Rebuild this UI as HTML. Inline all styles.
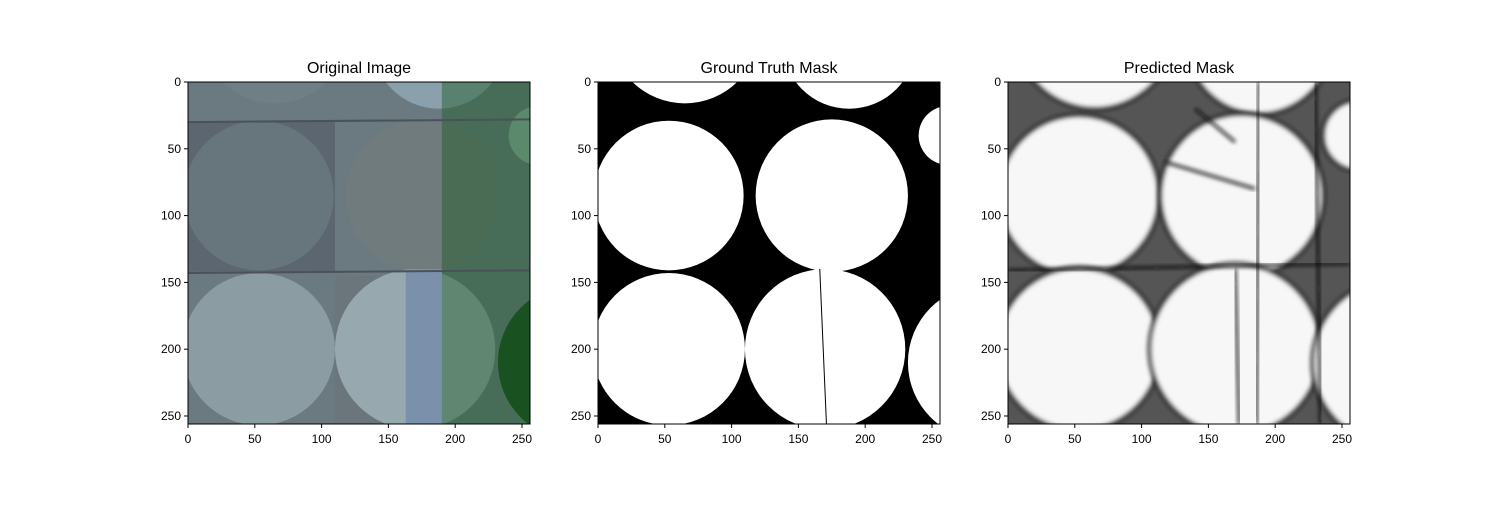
<!DOCTYPE html>
<html><head><meta charset="utf-8">
<style>
html,body{margin:0;padding:0;background:#fff;}
svg text{font-family:"Liberation Sans","DejaVu Sans",sans-serif;}
</style></head>
<body>
<svg id="fig" width="1500" height="500" viewBox="0 0 1500 500" xmlns="http://www.w3.org/2000/svg">
<defs>
<clipPath id="c0"><rect x="188" y="82" width="342" height="342"/></clipPath>
<clipPath id="c1"><rect x="598" y="82" width="342" height="342"/></clipPath>
<clipPath id="c2"><rect x="1008" y="82" width="342" height="342"/></clipPath>
<filter id="blur"><feGaussianBlur stdDeviation="2"/></filter>
</defs>
</svg>
<script>
const panelTitles = ["Original Image","Ground Truth Mask","Predicted Mask"];
const tickValues = [0,50,100,150,200,250];
const tickLabels = ["0","50","100","150","200","250"];
const imageSize = 256;
// field circles: center x, center y, radius (pixel units of the image)
const circleCX = [65,188,53,175,53,170,290,262];
const circleCY = [-40,-30,85,85,200,200,210,40];
const circleR  = [56,50,56,57,57,60,58,22];
// original image tints per circle
const origFill = ["#6f7f86","#8aa0ad","#66767c","#6f7b7c","#8c9ca3","#97a8ae","#174a1e","#8fb0a4"];
// predicted mask dark lines [x1,y1,x2,y2]
const predLX1 = [110,170,188,0,230,118,140];
const predLY1 = [0,140,0,141,0,60,20];
const predLX2 = [110,173,186,256,234,185,170];
const predLY2 = [256,256,256,136,256,80,45];

const svg = document.getElementById('fig');
const NS = 'http://www.w3.org/2000/svg';
const lefts = [188,598,1008];
const top0 = 82, size = 342;
function sx(p, v){ return lefts[p] + v/imageSize*size; }
function sy(v){ return top0 + v/imageSize*size; }
function sr(v){ return v/imageSize*size; }
function mk(tag, attrs, parent){ const e=document.createElementNS(NS,tag); for(const k in attrs) e.setAttribute(k,attrs[k]); (parent||svg).appendChild(e); return e; }

for(let p=0;p<3;p++){
  const g = mk('g',{'clip-path':'url(#c'+p+')'});
  
  
  const L = lefts[p];
  if(p===0){
    mk('rect',{x:L,y:top0,width:size,height:size,fill:'#6b7a80'},g);
    mk('rect',{x:sx(0,0),y:sy(30),width:sr(110),height:sr(112),fill:'#5c6670'},g);
    mk('rect',{x:sx(0,110),y:sy(145),width:sr(80),height:sr(111),fill:'#6a767c'},g);
    for(let i=0;i<circleCX.length;i++){
      mk('circle',{cx:sx(0,circleCX[i]),cy:sy(circleCY[i]),r:sr(circleR[i]),fill:origFill[i]},g);
    }
    mk('rect',{x:sx(0,163),y:sy(140),width:sr(27),height:sr(116),fill:'#7b91ab'},g);
    mk('rect',{x:sx(0,190),y:top0,width:sr(66),height:size,fill:'#1d5a26','opacity':'0.45'},g);
    mk('line',{x1:sx(0,0),y1:sy(30),x2:sx(0,256),y2:sy(28),stroke:'#4a5258','stroke-width':2},g);
    mk('line',{x1:sx(0,0),y1:sy(143),x2:sx(0,256),y2:sy(141),stroke:'#4a5258','stroke-width':2},g);
  } else if(p===1){
    mk('rect',{x:L,y:top0,width:size,height:size,fill:'#000'},g);
    for(let i=0;i<circleCX.length;i++){
      mk('circle',{cx:sx(1,circleCX[i]),cy:sy(circleCY[i]),r:sr(circleR[i]),fill:'#fff'},g);
    }
    mk('line',{x1:sx(1,166),y1:sy(140),x2:sx(1,171),y2:sy(256),stroke:'#000','stroke-width':1},g);
  } else {
    mk('rect',{x:L,y:top0,width:size,height:size,fill:'#555'},g);
    for(let i=0;i<circleCX.length;i++){
      mk('circle',{cx:sx(2,circleCX[i]),cy:sy(circleCY[i]),r:sr(circleR[i]+4),fill:'#f7f7f7',stroke:'#1a1a1a','stroke-width':4,filter:'url(#blur)'},g);
    }
    for(let i=0;i<predLX1.length;i++){
      mk('line',{x1:sx(2,predLX1[i]),y1:sy(predLY1[i]),x2:sx(2,predLX2[i]),y2:sy(predLY2[i]),stroke:'#111','stroke-width':2.5,filter:'url(#blur)'},g);
    }
  }
  const fr = mk('rect',{x:L,y:top0,width:size,height:size,fill:'none',stroke:'#000','stroke-width':1});
  
  
  const t = mk('text',{x:L+size/2,y:73,'text-anchor':'middle','font-size':16,fill:'#000'});
  t.textContent = panelTitles[p];
  
  
  for(let k=0;k<tickValues.length;k++){
    const x = sx(p,tickValues[k]);
    mk('line',{x1:x,y1:top0+size,x2:x,y2:top0+size+4,stroke:'#000','stroke-width':1});
    const tx = mk('text',{x:x,y:top0+size+19,'text-anchor':'middle','font-size':12,fill:'#000'});
    tx.textContent = tickLabels[k];
    
    
    const y = sy(tickValues[k]);
    mk('line',{x1:L-4,y1:y,x2:L,y2:y,stroke:'#000','stroke-width':1});
    const ty = mk('text',{x:L-7,y:y+4,'text-anchor':'end','font-size':12,fill:'#000'});
    ty.textContent = tickLabels[k];
    
    
  }
}
</script>
</body></html>
